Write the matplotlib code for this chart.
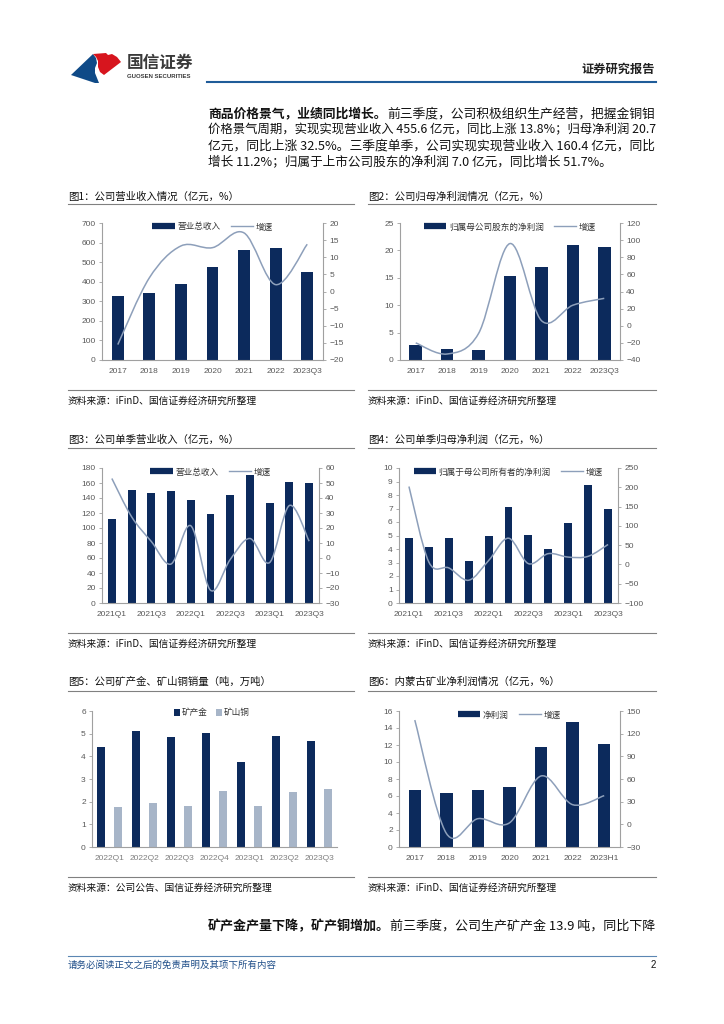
import numpy as np
import matplotlib
matplotlib.use("Agg")
import matplotlib.pyplot as plt
from matplotlib.path import Path
from matplotlib.patches import PathPatch, Polygon
from matplotlib.lines import Line2D

plt.rcParams['font.family'] = ['Liberation Sans', 'Noto Sans CJK SC', 'DejaVu Sans']
CJK = ['Noto Sans CJK SC', 'DejaVu Sans']

# ---- 数据 ----
years = ['2017', '2018', '2019', '2020', '2021', '2022', '2023Q3']
revenue = [328, 344, 387, 477, 561, 571, 452]
revenue_growth = [-15.5, 4, 13.3, 12.8, 17.1, 2, 13.8]

net_profit = [2.8, 1.95, 1.85, 15.4, 16.95, 21.0, 20.6]
net_profit_growth = [-20, -33, -9, 96, 6, 24, 32]

quarters = ['2021Q1', '2021Q2', '2021Q3', '2021Q4', '2022Q1', '2022Q2',
            '2022Q3', '2022Q4', '2023Q1', '2023Q2', '2023Q3']
q_revenue = [112, 151, 147, 150, 137, 119, 144, 171, 134, 162, 160]
q_revenue_growth = [53, 27.5, 11, -4, 21.5, -21.5, -1, 13, -3, 35, 11.2]

q_profit = [4.8, 4.15, 4.8, 3.1, 4.95, 7.1, 5.05, 4.0, 5.9, 8.75, 7.0]
q_profit_growth = [202, 6, -9, -41, 10, 68, 2, 28, 19, 21, 51.7]

sales_quarters = ['2022Q1', '2022Q2', '2022Q3', '2022Q4', '2023Q1', '2023Q2', '2023Q3']
gold = [4.43, 5.12, 4.86, 5.04, 3.74, 4.89, 4.68]
copper = [1.75, 1.92, 1.83, 2.46, 1.79, 2.41, 2.55]

nm_years = ['2017', '2018', '2019', '2020', '2021', '2022', '2023H1']
nm_profit = [6.69, 6.37, 6.73, 7.08, 11.78, 14.71, 12.09]
nm_growth = [138, -12, 7.5, 2, 64, 26, 38]

NAVY = '#0c2a5c'
LIGHT = '#a7b5c8'
LINEC = '#8d9fba'
GREY = '#a0a0a0'
TICKC = '#595959'

W, H = 724, 1024
fig = plt.figure(figsize=(W / 100, H / 100), dpi=100)
bg = fig.add_axes([0, 0, 1, 1], zorder=0)
bg.set_xlim(0, W)
bg.set_ylim(H, 0)
bg.axis('off')
renderer = fig.canvas.get_renderer()


def rect(l, r, t, b):
    return [l / W, 1 - b / H, (r - l) / W, (b - t) / H]


def hline(x0, x1, y, color='#808080', lw=0.8):
    bg.add_line(Line2D([x0, x1], [y, y], color=color, lw=lw))


def text_width(s, fs, weight):
    t = bg.text(0, 0, s, fontsize=fs, fontweight=weight, family=CJK)
    w = t.get_window_extent(renderer=renderer).width
    t.remove()
    return w


def para_line(y, parts, x0=208, x1=656, fs=9.1, justify=True):
    widths = [text_width(s, fs, wt) for s, wt in parts]
    scale = (x1 - x0) / sum(widths) if justify else 1.0
    scale = min(max(scale, 0.93), 1.07)
    x = x0
    for (s, wt), w in zip(parts, widths):
        bg.text(x, y, s, fontsize=fs * scale, fontweight=wt, family=CJK,
                color='#111111', ha='left', va='center')
        x += w * scale


def smooth_path(x, y):
    pts = np.column_stack([np.asarray(x, float), np.asarray(y, float)])
    n = len(pts)
    verts = [tuple(pts[0])]
    codes = [Path.MOVETO]
    for i in range(n - 1):
        p0, p1 = pts[max(i - 1, 0)], pts[i]
        p2, p3 = pts[i + 1], pts[min(i + 2, n - 1)]
        verts += [tuple(p1 + (p2 - p0) / 6), tuple(p2 - (p3 - p1) / 6), tuple(p2)]
        codes += [Path.CURVE4] * 3
    return Path(verts, codes)


def style_axis(ax, side='left'):
    for s in ['top', 'right', 'left', 'bottom']:
        ax.spines[s].set_visible(False)
    ax.spines[side].set_visible(True)
    ax.spines[side].set_color(GREY)
    ax.spines[side].set_linewidth(0.8)
    ax.tick_params(axis='y', length=2.5, width=0.6, color=GREY, labelsize=6,
                   labelcolor=TICKC, pad=2)


def style_bottom(ax):
    ax.spines['bottom'].set_visible(True)
    ax.spines['bottom'].set_color(GREY)
    ax.spines['bottom'].set_linewidth(0.8)
    ax.tick_params(axis='x', length=0, labelsize=6, labelcolor=TICKC, pad=5.5)


def combo(box, cats, bars, growth, yl, y2l, label, every=1, width=0.4):
    ax = fig.add_axes(rect(*box))
    x = np.arange(len(cats))
    ax.bar(x, bars, width=width, color=NAVY, zorder=2)
    ax.set_xlim(-0.5, len(cats) - 0.5)
    ax.set_ylim(yl[0], yl[1])
    ax.set_yticks(np.arange(yl[0], yl[1] + yl[2] / 2, yl[2]))
    ax.set_xticks(x[::every])
    ax.set_xticklabels(cats[::every])
    style_axis(ax, 'left')
    style_bottom(ax)

    ax2 = ax.twinx()
    ax2.set_ylim(y2l[0], y2l[1])
    ax2.set_yticks(np.arange(y2l[0], y2l[1] + y2l[2] / 2, y2l[2]))
    ax2.add_patch(PathPatch(smooth_path(x, growth), fill=False,
                            edgecolor=LINEC, lw=1.1))
    style_axis(ax2, 'right')

    handles = [Line2D([], [], color=NAVY, lw=4.5, solid_capstyle='butt'),
               Line2D([], [], color=LINEC, lw=1.0)]
    leg = ax2.legend(handles, [label, '增速'], loc='center',
                     bbox_to_anchor=(0.5, 1 - 4 / (box[3] - box[2])), ncol=2,
                     frameon=False, handlelength=2.6, handletextpad=0.3,
                     columnspacing=1.2, prop={'family': CJK, 'size': 6.2})
    for t in leg.get_texts():
        t.set_color('#333333')
    return ax, ax2


def chart_frame(x0, x1, title, y_title, y_line, y_sep, source):
    bg.text(x0, y_title, title, fontsize=7.5, family=CJK, color='#111111',
            ha='left', va='center')
    hline(x0, x1, y_line)
    hline(x0, x1, y_sep)
    bg.text(x0, y_sep + 11, source, fontsize=7, family=CJK, color='#111111',
            ha='left', va='center')


# ---- 页眉 ----
bg.add_patch(Polygon([(71, 75), (93, 54), (96, 58), (97, 63), (95, 68), (95, 73),
                      (97, 78), (99, 83), (95, 83)], closed=True,
                     facecolor='#0f4a87', edgecolor='none'))
bg.add_patch(Polygon([(93, 54), (106, 53), (108, 55), (112, 54), (117, 57), (121, 62),
                      (104, 75), (100, 72), (98, 67), (98, 61), (96, 57)], closed=True,
                     facecolor='#d7151e', edgecolor='none'))
bg.text(127, 63, '国信证券', fontsize=12, fontweight='bold', family=CJK,
        color='#3a3a3a', ha='left', va='center')
bg.text(127, 77, 'GUOSEN SECURITIES', fontsize=4.3, fontweight='bold',
        color='#3a3a3a', ha='left', va='center')
bg.text(655, 69, '证券研究报告', fontsize=8.8, fontweight='bold', family=CJK,
        color='#222222', ha='right', va='center')
hline(207, 656, 82, color='#1f5c99', lw=1.5)

# ---- 正文 ----
para_line(114, [('商品价格景气，业绩同比增长。', 'bold'),
                ('前三季度，公司积极组织生产经营，把握金铜钼', 'normal')])
para_line(130, [('价格景气周期，实现实现营业收入 455.6 亿元，同比上涨 13.8%；归母净利润 20.7', 'normal')])
para_line(146, [('亿元，同比上涨 32.5%。三季度单季，公司实现实现营业收入 160.4 亿元，同比', 'normal')])
para_line(162, [('增长 11.2%；归属于上市公司股东的净利润 7.0 亿元，同比增长 51.7%。', 'normal')],
          justify=False)

# ---- 图表框架 ----
src1 = '资料来源：iFinD、国信证券经济研究所整理'
src2 = '资料来源：公司公告、国信证券经济研究所整理'
chart_frame(68, 354, '图1：公司营业收入情况（亿元，%）', 197, 204, 390, src1)
chart_frame(368, 656, '图2：公司归母净利润情况（亿元，%）', 197, 204, 390, src1)
chart_frame(68, 354, '图3：公司单季营业收入（亿元，%）', 440, 448, 633, src1)
chart_frame(368, 656, '图4：公司单季归母净利润（亿元，%）', 440, 448, 633, src1)
chart_frame(68, 354, '图5：公司矿产金、矿山铜销量（吨，万吨）', 682, 691, 877, src2)
chart_frame(368, 656, '图6：内蒙古矿业净利润情况（亿元，%）', 682, 691, 877, src1)

# ---- 图1-图4, 图6 ----
combo((102, 323, 223, 360), years, revenue, revenue_growth,
      (0, 700, 100), (-20, 20, 5), '营业总收入', width=0.38)
combo((400, 620, 223, 360), years, net_profit, net_profit_growth,
      (0, 25, 5), (-40, 120, 20), '归属母公司股东的净利润', width=0.4)
combo((102, 319, 468, 603), quarters, q_revenue, q_revenue_growth,
      (0, 180, 20), (-30, 60, 10), '营业总收入', every=2, width=0.4)
combo((399, 618, 468, 603), quarters, q_profit, q_profit_growth,
      (0, 10, 1), (-100, 250, 50), '归属于母公司所有者的净利润', every=2, width=0.4)
combo((399, 620, 711, 847), nm_years, nm_profit, nm_growth,
      (0, 16, 2), (-30, 150, 30), '净利润', width=0.39)

# ---- 图5 ----
ax5 = fig.add_axes(rect(92, 337, 711, 847))
x5 = np.arange(len(sales_quarters))
ax5.bar(x5 - 0.25, gold, width=0.24, color=NAVY, label='矿产金')
ax5.bar(x5 + 0.25, copper, width=0.24, color=LIGHT, label='矿山铜')
ax5.set_xlim(-0.5, len(sales_quarters) - 0.5)
ax5.set_ylim(0, 6)
ax5.set_yticks(range(0, 7))
ax5.set_xticks(x5)
ax5.set_xticklabels(sales_quarters)
style_axis(ax5, 'left')
style_bottom(ax5)
ax5.tick_params(axis='x', labelcolor='#7f7f7f')
leg5 = ax5.legend(loc='center', bbox_to_anchor=(0.49, 1 - 2 / 136), ncol=2,
                  frameon=False, handlelength=0.7, handleheight=0.7,
                  handletextpad=0.2, columnspacing=1.0,
                  prop={'family': CJK, 'size': 6.2})
for t in leg5.get_texts():
    t.set_color('#333333')

# ---- 下段正文与页脚 ----
para_line(926, [('矿产金产量下降，矿产铜增加。', 'bold'),
                ('前三季度，公司生产矿产金 13.9 吨，同比下降', 'normal')])
hline(68, 656, 956, color='#5b86b3', lw=0.8)
bg.text(68, 965, '请务必阅读正文之后的免责声明及其项下所有内容', fontsize=6.8,
        family=CJK, style='italic', color='#1f4e89', ha='left', va='center')
bg.text(656, 965, '2', fontsize=7, color='#111111', ha='right', va='center')

fig.savefig('out.png', dpi=100)
